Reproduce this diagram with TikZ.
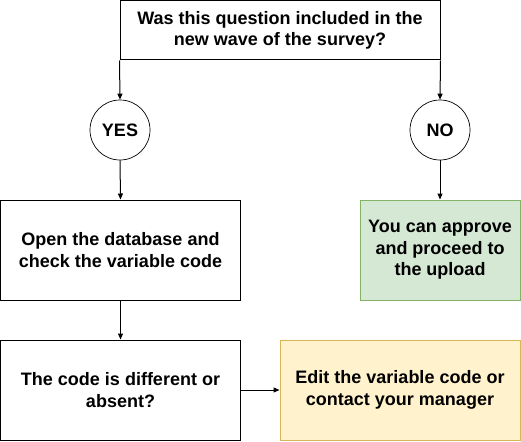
\documentclass[tikz,border=0pt]{standalone}
\usepackage{fontspec}
\setmainfont{Liberation Sans}
\usetikzlibrary{arrows.meta}
\definecolor{gfill}{HTML}{D5E8D4}
\definecolor{gline}{HTML}{82B366}
\definecolor{yfill}{HTML}{FFF2CC}
\definecolor{yline}{HTML}{D6B656}
\tikzset{
  box/.style={draw=black, line width=1pt, rectangle, inner sep=0pt, align=center,
    font=\fontsize{18}{21.6}\selectfont\bfseries},
  circ/.style={draw=black, line width=0.7pt, circle, minimum size=60pt, inner sep=0pt,
    font=\fontsize{18}{21.6}\selectfont\bfseries},
  conn/.style={draw=black, line width=1pt, -{Triangle[length=6pt,width=5pt]}}
}
\begin{document}
\begin{tikzpicture}[x=1pt,y=-1pt]
\useasboundingbox (0,0) rectangle (521,441);
\node[box, minimum width=320pt, minimum height=59.5pt] (q) at (280,30.25) {Was this question included in the\\new wave of the survey?};
\node[circ] (yes) at (120,130) {YES};
\node[circ] (no) at (440,130) {NO};
\node[box, minimum width=240pt, minimum height=100pt] (open) at (120.5,250) {Open the database and\\check the variable code};
\node[box, draw=gline, fill=gfill, minimum width=160pt, minimum height=100pt] (ok) at (440,250) {You can approve\\and proceed to\\the upload};
\node[box, minimum width=240pt, minimum height=100pt] (diff) at (120.5,390) {The code is different or\\absent?};
\node[box, draw=yline, fill=yfill, minimum width=240pt, minimum height=100pt] (edit) at (400,390) {Edit the variable code or\\contact your manager};
\draw[conn] (q.south west) -- (yes.north);
\draw[conn] (q.south east) -- (no.north);
\draw[conn] (yes.south) -- (open.north);
\draw[conn] (no.south) -- (ok.north);
\draw[conn] (open.south) -- (diff.north);
\draw[conn] (diff.east) -- (edit.west);
\end{tikzpicture}
\end{document}
